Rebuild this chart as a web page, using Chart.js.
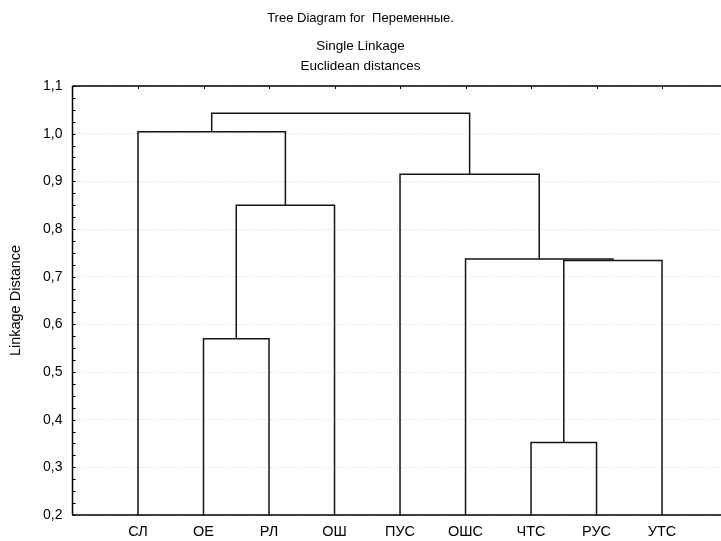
<!DOCTYPE html>
<html lang="ru">
<head>
    <meta charset="UTF-8">
    <title>Tree Diagram</title>
    <script src="https://cdn.jsdelivr.net/npm/chart.js@4/dist/chart.umd.min.js"></script>
    <style>
        html, body { margin: 0; padding: 0; background: #fff; }
        #wrap { width: 721px; height: 541px; }
    </style>
</head>
<body>
    <div id="wrap"><canvas id="tree"></canvas></div>

    <script>
        // leaves, left to right
        const labels = ['СЛ', 'ОЕ', 'РЛ', 'ОШ', 'ПУС', 'ОШС', 'ЧТС', 'РУС', 'УТС'];
        // merges: ids 0..8 are leaves, merge k makes cluster 9+k
        const mergeA = [6, 1, 9, 5, 10, 4, 0, 15];
        const mergeB = [7, 2, 8, 11, 3, 12, 13, 14];
        const mergeHeight = [0.352, 0.57, 0.734, 0.737, 0.85, 0.915, 1.004, 1.043];
        const yTicks = [0.2, 0.3, 0.4, 0.5, 0.6, 0.7, 0.8, 0.9, 1.0, 1.1];

        const FONT = "'Liberation Sans', Arial, sans-serif";
        const INK = '#141414';

        // position and height of every node
        const nodeX = labels.map((_, i) => i + 1);
        const nodeY = labels.map(() => yTicks[0]);
        const datasets = [];
        mergeA.forEach((a, k) => {
            const b = mergeB[k], h = mergeHeight[k];
            datasets.push({
                data: [
                    {x: nodeX[a], y: nodeY[a]},
                    {x: nodeX[a], y: h},
                    {x: nodeX[b], y: h},
                    {x: nodeX[b], y: nodeY[b]}
                ],
                borderColor: INK,
                borderWidth: 1.5,
                pointRadius: 0,
                tension: 0,
                fill: false
            });
            nodeX.push((nodeX[a] + nodeX[b]) / 2);
            nodeY.push(h);
        });

        // axes frame, minor ticks on y, small ticks along the top
        const frame = {
            id: 'frame',
            afterDatasetsDraw(chart) {
                const {ctx, chartArea: a, scales: {x, y}} = chart;
                ctx.save();
                ctx.strokeStyle = '#000';
                ctx.lineWidth = 1.5;
                ctx.beginPath();
                ctx.moveTo(a.left, a.top); ctx.lineTo(a.right, a.top);
                ctx.moveTo(a.left, a.top); ctx.lineTo(a.left, a.bottom);
                ctx.moveTo(a.left, a.bottom); ctx.lineTo(a.right, a.bottom);
                ctx.stroke();
                ctx.lineWidth = 1;
                ctx.beginPath();
                for (let v = yTicks[0]; v <= yTicks[yTicks.length - 1] + 1e-9; v += 0.025) {
                    const py = Math.round(y.getPixelForValue(v)) + 0.5;
                    ctx.moveTo(a.left, py); ctx.lineTo(a.left + 3, py);
                }
                labels.forEach((_, i) => {
                    const px = Math.round(x.getPixelForValue(i + 1)) + 0.5;
                    ctx.moveTo(px, a.top); ctx.lineTo(px, a.top + 3);
                });
                ctx.stroke();
                ctx.restore();
            }
        };

        new Chart(document.getElementById('tree'), {
            type: 'line',
            data: { datasets },
            plugins: [frame],
            options: {
                responsive: true,
                maintainAspectRatio: false,
                animation: false,
                layout: { padding: 0 },
                plugins: {
                    legend: { display: false },
                    tooltip: { enabled: false },
                    title: {
                        display: true,
                        text: 'Tree Diagram for  Переменные.',
                        color: '#000',
                        font: { family: FONT, size: 13, weight: 'normal', lineHeight: '16px' },
                        padding: { top: 10, bottom: 0 }
                    },
                    subtitle: {
                        display: true,
                        text: ['Single Linkage', 'Euclidean distances'],
                        color: '#000',
                        font: { family: FONT, size: 13.5, lineHeight: '20px' },
                        padding: { top: 10, bottom: 10 }
                    }
                },
                scales: {
                    x: {
                        type: 'linear',
                        min: 0,
                        max: 9.9,
                        afterBuildTicks: s => { s.ticks = labels.map((_, i) => ({ value: i + 1 })); },
                        afterFit: s => { s.height = 26; },
                        grid: { display: false, drawTicks: false },
                        border: { display: false },
                        ticks: {
                            padding: 8,
                            color: '#000',
                            font: { family: FONT, size: 14.5 },
                            maxRotation: 0,
                            callback: v => labels[v - 1] || ''
                        }
                    },
                    y: {
                        min: yTicks[0],
                        max: yTicks[yTicks.length - 1],
                        afterBuildTicks: s => { s.ticks = yTicks.map(v => ({ value: v })); },
                        afterFit: s => { s.width = 72.5; },
                        grid: { color: '#d4d4d4', lineWidth: 1, drawTicks: false },
                        border: { display: false, dash: [1, 2] },
                        ticks: {
                            padding: 10,
                            color: '#000',
                            font: { family: FONT, size: 14 },
                            callback: v => v.toFixed(1).replace('.', ',')
                        },
                        title: {
                            display: true,
                            text: 'Linkage Distance',
                            color: '#000',
                            font: { family: FONT, size: 14.5 },
                            padding: { top: 7, bottom: 0 }
                        }
                    }
                }
            }
        });
    </script>
</body>
</html>
